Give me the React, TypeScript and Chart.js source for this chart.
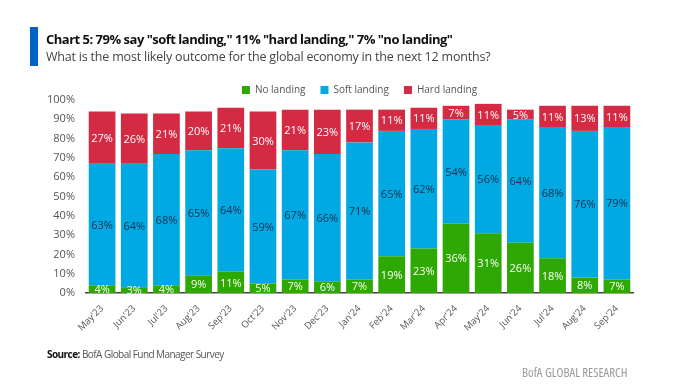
import React, { useEffect, useRef } from "react";
import { Chart, registerables } from "chart.js";

Chart.register(...registerables);

const categories = ["May'23", "Jun'23", "Jul'23", "Aug'23", "Sep'23", "Oct'23", "Nov'23", "Dec'23", "Jan'24", "Feb'24", "Mar'24", "Apr'24", "May'24", "Jun'24", "Jul'24", "Aug'24", "Sep'24"];
const noLanding = [4, 3, 4, 9, 11, 5, 7, 6, 7, 19, 23, 36, 31, 26, 18, 8, 7];
const softLanding = [63, 64, 68, 65, 64, 59, 67, 66, 71, 65, 62, 54, 56, 64, 68, 76, 79];
const hardLanding = [27, 26, 21, 20, 21, 30, 21, 23, 17, 11, 11, 7, 11, 5, 11, 13, 11];
const yTicks = [0, 10, 20, 30, 40, 50, 60, 70, 80, 90, 100];

const FONT = "'Open Sans', 'Noto Sans', sans-serif";
const labelColors = ["#ffffff", "#1a2e50", "#ffffff"];

const valueLabels = {
  id: "valueLabels",
  afterDatasetsDraw(chart: any) {
    const ctx = chart.ctx;
    ctx.save();
    ctx.font = `11px ${FONT}`;
    ctx.textAlign = "center";
    ctx.textBaseline = "middle";
    chart.data.datasets.forEach((ds: any, di: number) => {
      const meta = chart.getDatasetMeta(di);
      ctx.fillStyle = labelColors[di];
      meta.data.forEach((el: any, i: number) => {
        const { x, y, base } = el.getProps(["x", "y", "base"], true);
        ctx.fillText(ds.data[i] + "%", x, (y + base) / 2 + 1);
      });
    });
    ctx.restore();
  },
};

// keep the legend band compact while keeping wide horizontal spacing between items
const legendBand = {
  id: "legendBand",
  beforeLayout(chart: any) {
    const lg = chart.legend;
    if (lg && !lg.__patched) {
      const orig = lg.fit.bind(lg);
      lg.fit = function () {
        orig();
        this.height = 30;
        this.bottom = this.top + 30;
      };
      lg.__patched = true;
    }
  },
};

export default function App() {
  const ref = useRef<HTMLCanvasElement>(null);
  useEffect(() => {
    document.body.style.margin = "0";
    const chart = new Chart(ref.current!, {
      type: "bar",
      data: {
        labels: categories,
        datasets: [
          { label: "No landing", data: noLanding, backgroundColor: "#2ea802" },
          { label: "Soft landing", data: softLanding, backgroundColor: "#00a9e1" },
          { label: "Hard landing", data: hardLanding, backgroundColor: "#d42a43" },
        ],
      },
      options: {
        animation: false,
        responsive: false,
        layout: { padding: { top: 70, right: 54, left: 0, bottom: 0 } },
        plugins: {
          legend: {
            position: "top",
            fullSize: false,
            labels: {
              boxWidth: 8,
              boxHeight: 8,
              padding: 15,
              color: "#555",
              font: { family: FONT, size: 10 },
            },
          },
          tooltip: { enabled: false },
        },
        datasets: { bar: { categoryPercentage: 1, barPercentage: 0.83 } },
        scales: {
          x: {
            stacked: true,
            grid: { display: false },
            border: { display: true, color: "#444", width: 1.5 },
            ticks: {
              color: "#555",
              font: { family: FONT, size: 9.5 },
              minRotation: 45,
              maxRotation: 45,
              autoSkip: false,
              padding: 2,
            },
            afterFit: (s: any) => { s.height = 99; },
          },
          y: {
            stacked: true,
            min: 0,
            max: 100,
            grid: { display: false, drawTicks: false },
            border: { display: false },
            afterBuildTicks: (s: any) => { s.ticks = yTicks.map((v) => ({ value: v })); },
            ticks: {
              color: "#555",
              font: { family: FONT, size: 11 },
              padding: 11,
              callback: (v: any) => v + "%",
            },
            afterFit: (s: any) => { s.width = 86; },
          },
        },
      },
      plugins: [valueLabels, legendBand],
    });
    return () => chart.destroy();
  }, []);

  return (
    <div style={{ position: "fixed", left: 0, top: 0, width: 687, height: 392, background: "#fff", fontFamily: FONT }}>
      <canvas ref={ref} width={687} height={392} style={{ position: "absolute", left: 0, top: 0 }} />
      <div style={{ position: "absolute", left: 30, top: 27, width: 8, height: 39, background: "#0063c6" }} />
      <div style={{ position: "absolute", left: 46, top: 29.5, fontSize: 13, letterSpacing: -0.5, fontWeight: "bold", color: "#111", whiteSpace: "nowrap", lineHeight: "18px" }}>
        Chart 5: 79% say "soft landing," 11% "hard landing," 7% "no landing"
      </div>
      <div style={{ position: "absolute", left: 46, top: 47.5, fontSize: 12.5, letterSpacing: -0.2, color: "#444", whiteSpace: "nowrap", lineHeight: "18px" }}>
        What is the most likely outcome for the global economy in the next 12 months?
      </div>
      <div style={{ position: "absolute", left: 47, top: 346, fontSize: 10, letterSpacing: -0.55, color: "#555", whiteSpace: "nowrap", lineHeight: "16px" }}>
        <b style={{ color: "#111" }}>Source:</b> BofA Global Fund Manager Survey
      </div>
      <div style={{ position: "absolute", left: 522, top: 364, fontSize: 12.8, fontStretch: "condensed", color: "#999", whiteSpace: "nowrap", lineHeight: "16px" }}>
        BofA GLOBAL RESEARCH
      </div>
    </div>
  );
}
